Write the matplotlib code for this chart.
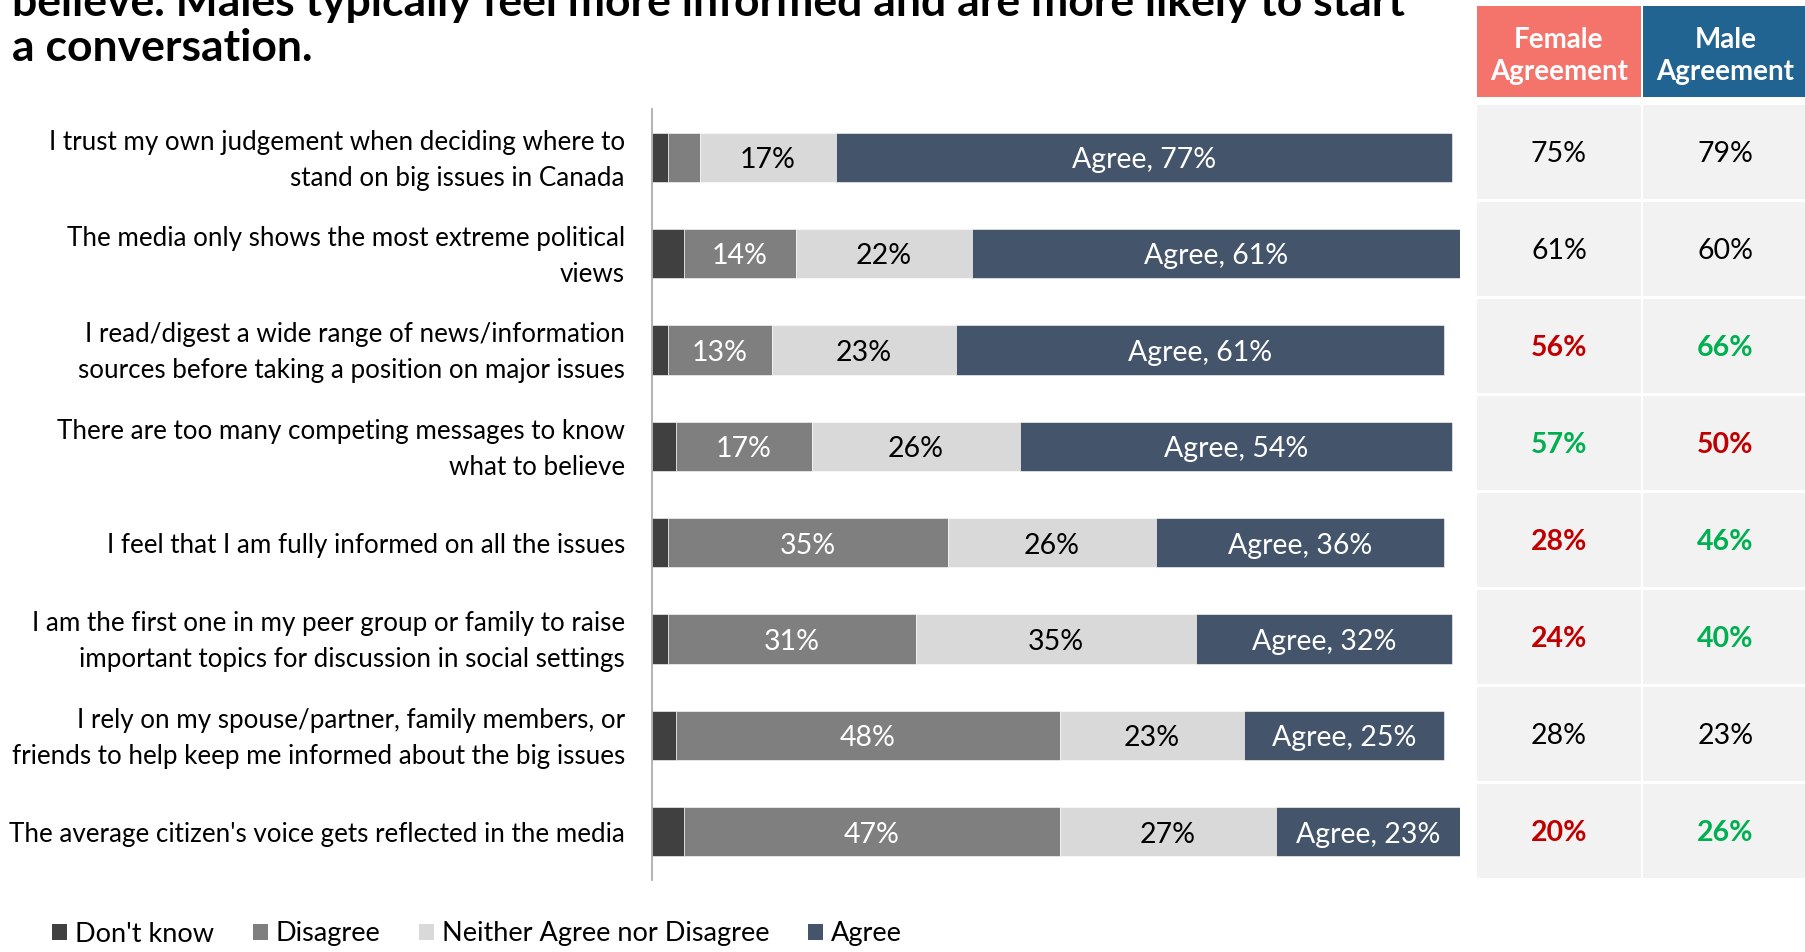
#!/usr/bin/env python

import numpy as np
import matplotlib
matplotlib.use('Agg')
import matplotlib.pyplot as plt
from matplotlib.patches import Patch, Rectangle

'''Stacked agreement bars per statement, with a female / male agreement table
to the right.'''

statements = [
    'I trust my own judgement when deciding where to\nstand on big issues in Canada',
    'The media only shows the most extreme political\nviews',
    'I read/digest a wide range of news/information\nsources before taking a position on major issues',
    'There are too many competing messages to know\nwhat to believe',
    'I feel that I am fully informed on all the issues',
    'I am the first one in my peer group or family to raise\nimportant topics for discussion in social settings',
    'I rely on my spouse/partner, family members, or\nfriends to help keep me informed about the big issues',
    "The average citizen's voice gets reflected in the media",
]

dont_know = [2, 4, 2, 3, 2, 2, 3, 4]
disagree = [4, 14, 13, 17, 35, 31, 48, 47]
neither = [17, 22, 23, 26, 26, 35, 23, 27]
agree = [77, 61, 61, 54, 36, 32, 25, 23]

female_agree = [75, 61, 56, 57, 28, 24, 28, 20]
male_agree = [79, 60, 66, 50, 46, 40, 23, 26]
# 'n' = normal, 'lo' = lower than the other gender, 'hi' = higher
female_flag = ['n', 'n', 'lo', 'hi', 'lo', 'lo', 'n', 'lo']
male_flag = ['n', 'n', 'hi', 'lo', 'hi', 'hi', 'n', 'hi']

series_names = ["Don't know", 'Disagree', 'Neither Agree nor Disagree', 'Agree']
series_colors = ['#404040', '#7f7f7f', '#d9d9d9', '#44546a']

FONT = 'Lato'
W, H = 1805, 952


def px_x(x):
    return x / W


def px_y(y):
    return 1 - y / H


def main():
    plt.rcParams['font.family'] = [FONT, 'DejaVu Sans']
    fig = plt.figure(figsize=(W / 100, H / 100), dpi=100)

    # title, first line runs off the top edge
    fig.text(px_x(12), px_y(16), 'believe. Males typically feel more informed and are more likely to start',
             fontsize=32, fontweight='bold', va='baseline', ha='left')
    fig.text(px_x(12), px_y(61), 'a conversation.',
             fontsize=32, fontweight='bold', va='baseline', ha='left')

    # stacked bars
    ax = fig.add_axes([px_x(652), px_y(880), px_x(808), (880 - 109) / H])
    y = np.arange(len(statements))
    left = np.zeros(len(statements))
    series = [dont_know, disagree, neither, agree]
    lab_fs = 20.5
    dy = 0.03  # nudge labels a touch below bar centre
    for k, vals in enumerate(series):
        vals = np.array(vals, dtype=float)
        ax.barh(y, vals, left=left, height=0.51, color=series_colors[k],
                edgecolor='white', linewidth=0.4)
        for i, v in enumerate(vals):
            cx = left[i] + v / 2
            if k == 1 and v >= 10:
                ax.text(cx, y[i] + dy, '%d%%' % v, ha='center', va='center',
                        color='white', fontsize=lab_fs)
            elif k == 2:
                ax.text(cx, y[i] + dy, '%d%%' % v, ha='center', va='center',
                        color='black', fontsize=lab_fs)
            elif k == 3:
                ax.text(cx, y[i] + dy, 'Agree, %d%%' % v, ha='center', va='center',
                        color='white', fontsize=lab_fs)
        left += vals

    ax.set_xlim(0, 101)
    ax.set_ylim(len(statements) - 0.5, -0.5)
    ax.set_yticks([])
    ax.set_xticks([])
    # statement labels, right-aligned just left of the axis line
    for i, s in enumerate(statements):
        ax.text(-27 / 808, y[i] + dy, s, transform=ax.get_yaxis_transform(),
                ha='right', va='center', fontsize=18.7, linespacing=1.55)
    for s in ['top', 'right', 'bottom']:
        ax.spines[s].set_visible(False)
    ax.spines['left'].set_color('#a6a6a6')
    ax.spines['left'].set_linewidth(1.2)

    # agreement table, drawn in pixel coordinates
    tb = fig.add_axes([0, 0, 1, 1], zorder=-1)
    tb.set_xlim(0, W)
    tb.set_ylim(H, 0)
    tb.axis('off')

    cols = [(1477, 1641, '#f4736b', 'Female\nAgreement', female_agree, female_flag),
            (1643, 1808, '#216391', 'Male\nAgreement', male_agree, male_flag)]
    flag_style = {'n': ('black', 'normal'), 'lo': ('#c00000', 'bold'), 'hi': ('#00b050', 'bold')}
    for x0, x1, hcol, head, vals, flags in cols:
        tb.add_patch(Rectangle((x0, 6), x1 - x0, 91, color=hcol, lw=0))
        tb.text((x0 + x1) / 2, 56, head, ha='center', va='center', color='white',
                fontsize=20, fontweight='bold', linespacing=1.3)
        for i, v in enumerate(vals):
            top = 105 + i * 97
            tb.add_patch(Rectangle((x0, top), x1 - x0, 94, color='#f2f2f2', lw=0))
            c, wgt = flag_style[flags[i]]
            tb.text((x0 + x1) / 2, top + 49, '%d%%' % v, ha='center', va='center',
                    color=c, fontweight=wgt, fontsize=20.5)

    handles = [Patch(facecolor=c, edgecolor='none') for c in series_colors]
    fig.legend(handles, series_names, loc='center left', ncol=4,
               bbox_to_anchor=(px_x(28), px_y(934)), frameon=False, fontsize=19.5,
               handlelength=0.55, handleheight=0.55, handletextpad=0.3,
               columnspacing=1.42)

    fig.savefig('out.png', dpi=100)
    return


if __name__ == '__main__':
    main()
